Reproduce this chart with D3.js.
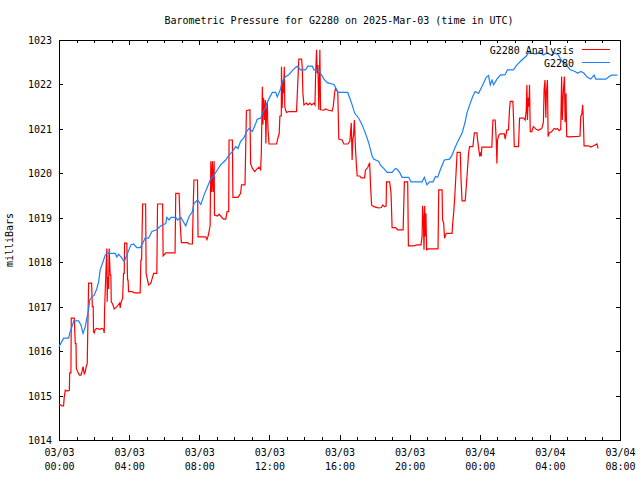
<!DOCTYPE html>
<html>
<head>
<meta charset="utf-8">
<script src="https://cdn.jsdelivr.net/npm/d3@7"></script>
<style>
  html, body { margin: 0; padding: 0; background: #fff; }
  svg { display: block; }
  text { font-family: "DejaVu Sans Mono", "Liberation Mono", monospace; font-size: 10px; fill: #000; }
</style>
</head>
<body>
<svg id="chart" width="640" height="480"></svg>
<script>
// ---------------- DATA ----------------
const chartTitle = "Barometric Pressure for G2280 on 2025-Mar-03 (time in UTC)";
const yAxisLabel = "milliBars";
const seriesNames = ["G2280 Analysis", "G2280"];
const seriesColors = ["#ff0000", "#1a80ff"];

// hours since 2025-03-03 00:00 UTC
const xMajorTicks = [0, 4, 8, 12, 16, 20, 24, 28, 32];
const xTickDates = ["03/03", "03/03", "03/03", "03/03", "03/03", "03/03", "03/04", "03/04", "03/04"];
const xTickTimes = ["00:00", "04:00", "08:00", "12:00", "16:00", "20:00", "00:00", "04:00", "08:00"];
const yTicks = [1014, 1015, 1016, 1017, 1018, 1019, 1020, 1021, 1022, 1023];

// observed pressure G2280: [hour, mb]
const observed = [
[0.00,1016.10],[0.27,1016.29],[0.55,1016.29],[0.61,1016.40],[0.74,1016.55],[0.84,1016.68],[1.12,1016.68],
[1.25,1016.59],[1.37,1016.40],[1.50,1016.55],[1.59,1016.75],[1.69,1016.93],[1.75,1017.15],[1.88,1017.22],
[2.01,1017.26],[2.16,1017.41],[2.26,1017.56],[2.35,1017.83],[2.51,1018.01],[2.64,1018.16],[2.73,1018.20],
[3.21,1018.20],[3.30,1018.12],[3.40,1018.18],[3.59,1018.09],[3.72,1018.01],[3.87,1018.16],[4.10,1018.39],
[4.25,1018.41],[4.44,1018.33],[4.63,1018.33],[4.78,1018.43],[4.91,1018.54],[5.11,1018.54],[5.30,1018.69],
[5.58,1018.73],[5.81,1018.82],[6.09,1018.87],[6.15,1019.01],[6.28,1018.95],[6.38,1019.01],[6.66,1019.01],
[6.76,1018.95],[6.95,1019.01],[7.23,1018.82],[7.42,1019.03],[7.61,1019.14],[7.70,1019.32],[7.90,1019.40],
[8.09,1019.30],[8.27,1019.51],[8.47,1019.70],[8.65,1019.87],[8.84,1019.96],[9.04,1020.08],[9.22,1020.19],
[9.51,1020.30],[9.70,1020.41],[9.89,1020.49],[10.08,1020.60],[10.21,1020.56],[10.36,1020.72],[10.55,1020.80],
[10.70,1020.94],[10.84,1021.01],[11.03,1020.94],[11.22,1021.12],[11.31,1021.22],[11.50,1021.24],[11.66,1021.39],
[11.79,1021.50],[11.88,1021.60],[12.03,1021.72],[12.17,1021.82],[12.36,1021.82],[12.45,1021.72],[12.64,1021.90],
[12.74,1022.07],[12.93,1022.18],[13.11,1022.22],[13.31,1022.31],[13.49,1022.38],[13.59,1022.41],[13.78,1022.33],
[14.06,1022.33],[14.20,1022.41],[14.45,1022.41],[14.54,1022.33],[14.82,1022.33],[14.92,1022.25],[15.11,1022.12],
[15.30,1022.04],[15.68,1022.00],[15.83,1021.89],[15.90,1021.82],[16.47,1021.82],[16.59,1021.69],[16.72,1021.54],
[16.87,1021.35],[17.10,1021.24],[17.29,1021.09],[17.48,1020.90],[17.67,1020.68],[17.77,1020.53],[17.86,1020.39],
[17.95,1020.32],[18.24,1020.27],[18.33,1020.19],[18.52,1020.11],[18.72,1020.02],[19.00,1020.02],[19.19,1020.11],
[19.29,1020.09],[19.43,1020.02],[19.57,1019.91],[19.95,1019.91],[20.08,1019.81],[20.71,1019.81],[20.84,1019.91],
[20.99,1019.74],[21.14,1019.81],[21.34,1019.81],[21.47,1019.93],[21.60,1019.91],[21.75,1020.08],[21.98,1020.30],
[22.28,1020.32],[22.42,1020.41],[22.61,1020.60],[22.79,1020.75],[22.99,1020.90],[23.17,1021.16],[23.27,1021.36],
[23.46,1021.58],[23.61,1021.74],[23.74,1021.84],[23.93,1021.80],[24.07,1021.91],[24.22,1022.03],[24.37,1022.16],
[24.50,1022.20],[24.60,1021.99],[24.70,1022.10],[24.79,1021.99],[24.98,1022.12],[25.17,1022.21],[25.45,1022.22],
[25.58,1022.33],[25.92,1022.33],[26.12,1022.44],[26.40,1022.55],[26.65,1022.64],[26.78,1022.71],[27.16,1022.69],
[27.45,1022.71],[27.63,1022.66],[27.83,1022.71],[28.11,1022.66],[28.30,1022.71],[28.49,1022.66],[28.59,1022.59],
[28.78,1022.48],[28.97,1022.42],[29.16,1022.33],[29.44,1022.29],[29.58,1022.25],[29.77,1022.29],[29.95,1022.25],
[30.14,1022.16],[30.33,1022.12],[30.52,1022.21],[30.62,1022.12],[31.19,1022.12],[31.38,1022.18],[31.53,1022.21],
[31.85,1022.21]
];

// analysis pressure G2280 Analysis: [hour, mb]
const analysis = [
[0.00,1014.81],[0.17,1014.77],[0.26,1014.77],[0.30,1014.97],[0.36,1015.12],[0.46,1015.10],[0.59,1015.12],
[0.61,1015.51],[0.68,1015.51],[0.70,1016.74],[0.87,1016.74],[0.93,1016.17],[0.97,1016.17],[0.99,1015.61],
[1.06,1015.54],[1.16,1015.46],[1.25,1015.46],[1.31,1015.54],[1.37,1015.65],[1.44,1015.49],[1.50,1015.54],
[1.55,1015.65],[1.61,1015.72],[1.65,1016.66],[1.69,1017.53],[1.86,1017.53],[1.90,1017.00],[1.95,1017.00],
[1.97,1016.44],[2.01,1016.41],[2.07,1016.49],[2.16,1016.51],[2.32,1016.49],[2.45,1016.51],[2.54,1016.49],
[2.58,1016.41],[2.60,1016.93],[2.68,1017.83],[2.73,1018.31],[2.75,1017.11],[2.77,1017.67],[2.83,1017.40],
[2.86,1018.31],[2.92,1017.71],[2.96,1017.71],[2.98,1017.11],[3.06,1017.06],[3.15,1016.95],[3.27,1016.99],
[3.36,1017.03],[3.46,1017.08],[3.49,1016.97],[3.53,1017.08],[3.63,1017.19],[3.68,1017.75],[3.72,1017.75],
[3.74,1018.43],[3.87,1018.43],[3.91,1017.60],[3.94,1017.60],[3.97,1017.34],[4.16,1017.34],[4.31,1017.31],
[4.63,1017.31],[4.67,1018.05],[4.71,1018.05],[4.77,1019.31],[4.94,1019.31],[4.97,1017.75],[5.11,1017.49],
[5.24,1017.53],[5.34,1017.67],[5.40,1017.75],[5.58,1017.75],[5.62,1019.31],[5.91,1019.31],[5.94,1018.14],
[6.09,1018.21],[6.62,1018.21],[6.66,1019.55],[6.85,1019.55],[6.91,1018.88],[6.98,1018.44],[7.33,1018.44],
[7.42,1018.41],[7.61,1018.41],[7.67,1019.48],[7.70,1019.85],[7.90,1019.85],[7.93,1018.57],[8.37,1018.57],
[8.44,1018.51],[8.52,1018.61],[8.62,1018.82],[8.66,1020.27],[8.70,1019.58],[8.75,1020.27],[8.79,1019.58],
[8.85,1020.27],[8.87,1019.06],[9.04,1019.04],[9.13,1019.08],[9.22,1019.04],[9.38,1018.97],[9.51,1018.97],
[9.59,1019.14],[9.68,1019.14],[9.70,1020.75],[9.89,1020.75],[9.92,1019.46],[10.21,1019.46],[10.36,1019.55],
[10.41,1019.74],[10.61,1019.74],[10.69,1021.41],[10.89,1021.43],[10.93,1020.22],[11.03,1020.11],[11.16,1020.04],
[11.27,1020.09],[11.41,1020.14],[11.50,1020.08],[11.54,1020.45],[11.60,1021.95],[11.63,1021.10],[11.67,1021.70],
[11.73,1021.20],[11.77,1021.65],[11.80,1020.67],[11.84,1021.40],[11.88,1021.60],[11.92,1021.00],[11.98,1020.66],
[12.41,1020.66],[12.49,1020.80],[12.56,1020.89],[12.60,1021.29],[12.68,1021.29],[12.69,1022.40],[12.73,1021.47],
[12.77,1022.07],[12.81,1021.80],[12.85,1022.40],[12.88,1021.50],[12.92,1021.43],[12.98,1021.37],[13.11,1021.39],
[13.55,1021.39],[13.68,1022.57],[13.84,1022.57],[13.88,1022.33],[13.91,1021.82],[13.97,1021.54],[14.12,1021.58],
[14.20,1021.54],[14.31,1021.58],[14.41,1021.54],[14.54,1021.58],[14.60,1021.54],[14.64,1022.25],[14.69,1022.78],
[14.73,1022.25],[14.77,1022.44],[14.82,1021.43],[14.86,1022.25],[14.88,1022.78],[14.92,1021.43],[15.11,1021.42],
[15.20,1021.45],[15.39,1021.42],[15.58,1021.40],[15.64,1021.50],[15.72,1021.80],[15.77,1021.91],[15.83,1021.87],
[15.90,1021.84],[15.96,1020.77],[16.15,1020.75],[16.25,1020.66],[16.47,1020.66],[16.59,1020.72],[16.67,1021.13],
[16.72,1020.30],[16.76,1020.77],[16.80,1020.85],[16.85,1021.20],[16.91,1020.56],[16.97,1020.15],[17.01,1019.94],
[17.16,1019.94],[17.24,1019.90],[17.43,1019.90],[17.48,1020.07],[17.61,1020.13],[17.72,1020.24],[17.77,1019.74],
[17.83,1019.29],[17.96,1019.25],[18.15,1019.23],[18.24,1019.22],[18.38,1019.23],[18.47,1019.29],[18.56,1019.25],
[18.66,1019.27],[18.68,1019.81],[18.86,1019.81],[18.94,1019.55],[19.00,1018.78],[19.19,1018.78],[19.32,1018.73],
[19.63,1018.73],[19.70,1019.81],[19.89,1019.81],[19.93,1018.37],[20.23,1018.37],[20.42,1018.39],[20.65,1018.39],
[20.71,1018.58],[20.74,1019.27],[20.78,1019.03],[20.82,1018.28],[20.86,1019.27],[20.90,1018.58],[20.93,1019.10],
[20.97,1018.28],[21.05,1018.30],[21.62,1018.30],[21.66,1019.63],[21.85,1019.63],[21.88,1018.95],[21.94,1018.89],
[21.99,1018.54],[22.09,1018.65],[22.42,1018.65],[22.45,1018.84],[22.51,1019.10],[22.57,1019.44],[22.71,1020.47],
[22.89,1020.47],[22.93,1019.89],[22.99,1019.38],[23.17,1019.38],[23.30,1020.08],[23.36,1020.45],[23.42,1020.60],
[23.61,1020.60],[23.69,1020.91],[23.84,1020.91],[23.87,1020.77],[23.99,1020.41],[24.03,1020.45],[24.08,1020.38],
[24.12,1020.59],[24.69,1020.59],[24.75,1021.20],[24.88,1021.20],[24.94,1020.75],[24.98,1020.22],[25.01,1020.75],
[25.09,1020.86],[25.17,1020.89],[25.40,1020.89],[25.45,1020.77],[25.55,1020.98],[25.64,1020.98],[25.70,1021.45],
[25.74,1021.62],[25.89,1021.62],[25.93,1021.20],[25.97,1020.60],[26.21,1020.60],[26.27,1021.24],[26.50,1021.24],
[26.59,1021.20],[26.65,1021.40],[26.69,1021.99],[26.72,1021.20],[26.76,1021.70],[26.80,1021.50],[26.84,1021.99],
[26.88,1020.94],[26.97,1020.94],[27.06,1021.05],[27.22,1020.99],[27.35,1020.97],[27.43,1020.99],[27.54,1021.01],
[27.63,1021.15],[27.67,1021.88],[27.72,1022.10],[27.77,1021.25],[27.80,1021.80],[27.86,1022.10],[27.90,1020.83],
[27.97,1020.91],[28.11,1020.94],[28.24,1021.01],[28.34,1020.99],[28.43,1021.01],[28.52,1020.96],[28.62,1020.99],
[28.67,1022.18],[28.71,1021.20],[28.77,1021.85],[28.83,1022.18],[28.87,1021.15],[28.92,1021.80],[28.96,1020.83],
[29.06,1020.82],[29.62,1020.83],[29.72,1020.84],[29.76,1021.28],[29.82,1021.33],[29.87,1021.54],[29.91,1021.20],
[29.95,1020.62],[30.20,1020.62],[30.34,1020.59],[30.49,1020.62],[30.68,1020.66],[30.75,1020.56]
];

// ---------------- DRAW ----------------
const svg = d3.select("#chart");
const plot = { left: 59, right: 620, top: 40, bottom: 440 };

const x = d3.scaleLinear().domain([0, 32]).range([plot.left, plot.right]);
const y = d3.scaleLinear().domain([1014, 1023]).range([plot.bottom, plot.top]);

// title
svg.append("text")
  .attr("x", 339).attr("y", 24)
  .attr("text-anchor", "middle")
  .text(chartTitle);

// y label
svg.append("text")
  .attr("transform", "translate(13,240) rotate(-90)")
  .attr("text-anchor", "middle")
  .text(yAxisLabel);

const minorHours = d3.range(0, 33, 1);

// minor x ticks bottom/top
svg.append("g").attr("transform", `translate(0,${plot.bottom})`)
  .call(d3.axisBottom(x).tickValues(minorHours).tickSizeInner(-3).tickSizeOuter(0).tickFormat(""))
  .call(g => g.select(".domain").remove());
svg.append("g").attr("transform", `translate(0,${plot.top})`)
  .call(d3.axisTop(x).tickValues(minorHours).tickSizeInner(-3).tickSizeOuter(0).tickFormat(""))
  .call(g => g.select(".domain").remove());

// major x ticks bottom with labels
const xAxisG = svg.append("g").attr("transform", `translate(0,${plot.bottom})`)
  .call(d3.axisBottom(x).tickValues(xMajorTicks).tickSizeInner(-5).tickSizeOuter(0).tickPadding(9)
    .tickFormat((d, i) => xTickDates[i]))
  .call(g => g.select(".domain").remove());
xAxisG.selectAll(".tick text").each(function(d, i) {
  const t = d3.select(this);
  t.text(null).attr("dy", null).attr("y", 16);
  t.append("tspan").attr("x", 0).attr("y", 16).text(xTickDates[i]);
  t.append("tspan").attr("x", 0).attr("y", 30).text(xTickTimes[i]);
});
svg.append("g").attr("transform", `translate(0,${plot.top})`)
  .call(d3.axisTop(x).tickValues(xMajorTicks).tickSizeInner(-5).tickSizeOuter(0).tickFormat(""))
  .call(g => g.select(".domain").remove());

// y ticks
svg.append("g").attr("transform", `translate(${plot.left},0)`)
  .call(d3.axisLeft(y).tickValues(yTicks).tickSizeInner(-4).tickSizeOuter(0).tickPadding(7).tickFormat(d3.format("d")))
  .call(g => g.select(".domain").remove())
  .call(g => g.selectAll(".tick text").attr("dy", "0.35em"));
svg.append("g").attr("transform", `translate(${plot.right},0)`)
  .call(d3.axisRight(y).tickValues(yTicks).tickSizeInner(-4).tickSizeOuter(0).tickFormat(""))
  .call(g => g.select(".domain").remove());

svg.selectAll(".tick line").attr("stroke", "#000").attr("shape-rendering", "crispEdges");
svg.selectAll(".tick text").style("font-family", "DejaVu Sans Mono, monospace").style("font-size", "10px").attr("fill", "#000");

// border
svg.append("rect")
  .attr("x", plot.left).attr("y", plot.top)
  .attr("width", plot.right - plot.left).attr("height", plot.bottom - plot.top)
  .attr("fill", "none").attr("stroke", "#000").attr("stroke-width", 1)
  .attr("shape-rendering", "crispEdges");

// lines
const line = d3.line().x(d => x(d[0])).y(d => y(d[1]));
svg.append("path").datum(analysis)
  .attr("d", line).attr("fill", "none").attr("stroke", seriesColors[0]).attr("stroke-width", 1.2);
svg.append("path").datum(observed)
  .attr("d", line).attr("fill", "none").attr("stroke", seriesColors[1]).attr("stroke-width", 1.2);

// legend
const legend = svg.append("g");
seriesNames.forEach((name, i) => {
  const ly = 50 + i * 13;
  legend.append("text").attr("x", 574).attr("y", ly).attr("dy", "0.35em")
    .attr("text-anchor", "end").text(name);
  legend.append("line").attr("x1", 582).attr("x2", 610).attr("y1", ly - 1).attr("y2", ly - 1)
    .attr("stroke", seriesColors[i]).attr("stroke-width", 1).attr("shape-rendering", "crispEdges");
});
</script>
</body>
</html>
